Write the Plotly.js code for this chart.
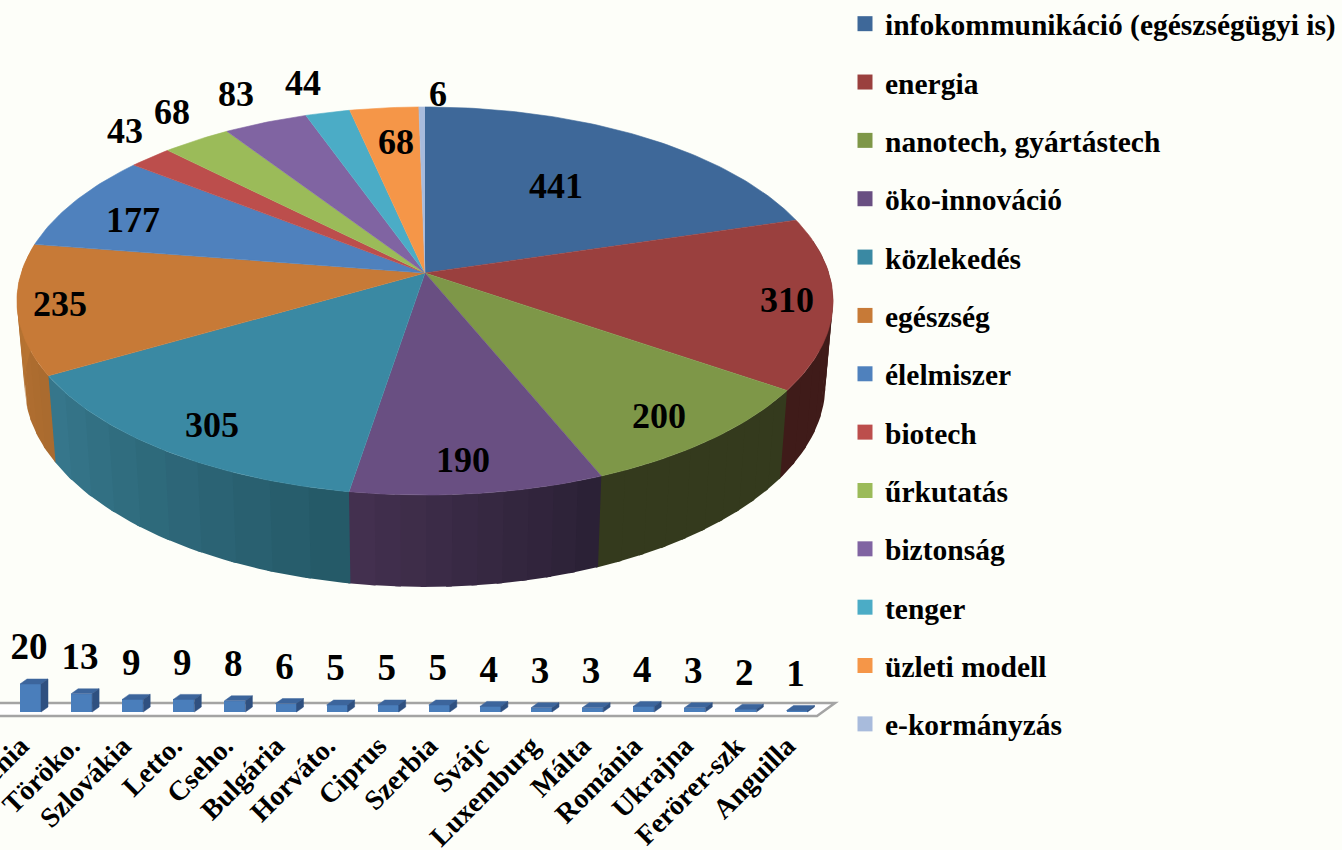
<!DOCTYPE html>
<html>
<head>
<meta charset="utf-8">
<script src="https://cdn.plot.ly/plotly-3.0.1.min.js"></script>
<style>html,body{margin:0;padding:0;background:#fdfef9;overflow:hidden}#chart{width:1342px;height:850px}</style>
</head>
<body>
<div id="chart"></div>
<script>
// ---- data ----
const themes = ['infokommunikáció (egészségügyi is)','energia','nanotech, gyártástech','öko-innováció','közlekedés','egészség','élelmiszer','biotech','űrkutatás','biztonság','tenger','üzleti modell','e-kormányzás'];
const themeValues = [441,310,200,190,305,235,177,43,68,83,44,68,6];
const countries = ['Szlovénia','T\u00f6r\u00f6ko.','Szlovákia','Letto.','Cseho.','Bulgária','Horváto.','Ciprus','Szerbia','Svájc','Luxemburg','Málta','Románia','Ukrajna','Ferörer-szk','Anguilla'];
const countryValues = [20,13,9,9,8,6,5,5,5,4,3,3,4,3,2,1];

// ---- styles ----
const FONT = 'Liberation Serif';
const BG = '#fdfef9';
const topColors = ['#3e6899','#9a403e','#7e9748','#694f82','#3a89a3','#c77a37','#4f81bd','#bc4e4c','#9bbb59','#8064a2','#4bacc6','#f59648','#a8bbdc'];
const sideFrom  = {1:'#3f1b19',2:'#343a1d',3:'#2a2035',4:'#245866',5:'#a96a2f'};
const sideTo    = {1:'#3f1b19',2:'#343a1d',3:'#443150',4:'#37788d',5:'#bb7632'};
// pie label placement (page pixels)
const pieLabelX = [556,787,659,463,212,60,133,125,172,236,303,396,438];
const pieLabelY = [186,300,416,460,425,304,220,131,112,94,83,142,94];

// ---- perspective pie projection ----
const CX=425, CY=273, A=403.8, B=190, K=0.1443;
const DROP=83, SX=0.981, SY=1.04;
function proj(deg, r, bottom){
  const t=deg*Math.PI/180, u=r*Math.sin(t), v=r*Math.cos(t), w=1+K*v;
  const px=A*u/w, py=-B*v/w;
  return bottom ? [CX+px*SX, CY+DROP+py*SY] : [CX+px, CY+py];
}
function arc(a,b){const o=[];const n=Math.max(2,Math.ceil(Math.abs(b-a)));for(let i=0;i<=n;i++)o.push(a+(b-a)*i/n);return o;}
function hex(c){return [1,3,5].map(i=>parseInt(c.substr(i,2),16));}
function mix(a,b,f){const x=hex(a),y=hex(b);return 'rgb('+x.map((v,i)=>Math.round(v+(y[i]-v)*f)).join(',')+')';}

const total=themeValues.reduce((a,b)=>a+b,0);
const edges=[0];themeValues.forEach(v=>edges.push(edges[edges.length-1]+v/total*360));

const traces=[];
const poly=(xs,ys,color,name,lw)=>({type:'scatter',mode:'lines',x:xs,y:ys,fill:'toself',fillcolor:color,
  line:{color:color,width:lw},hoverinfo:name?'text':'skip',text:name,showlegend:false,xaxis:'x',yaxis:'y'});

// side wall, cut to the visible front of the disc
const VIS0=80, VIS1=282, OVERLAP=0.7;
themeValues.forEach((v,i)=>{
  if(!sideFrom[i])return;
  const a=Math.max(edges[i],VIS0), b=Math.min(edges[i+1],VIS1);
  if(b<=a)return;
  const strips=10;
  for(let s=0;s<strips;s++){
    const a0=a+(b-a)*s/strips, a1=a+(b-a)*(s+1)/strips+(s<strips-1?OVERLAP:0.3);
    const top=arc(a0,a1).map(d=>proj(d,1,false));
    const bot=arc(a1,a0).map(d=>proj(d,1,true));
    const pts=top.concat(bot);
    traces.push(poly(pts.map(p=>p[0]),pts.map(p=>p[1]),mix(sideFrom[i],sideTo[i],(s+0.5)/strips),null,0));
  }
});
// top faces
themeValues.forEach((v,i)=>{
  const pts=[[CX,CY]].concat(arc(edges[i],edges[i+1]).map(d=>proj(d,1,false)));
  traces.push(poly(pts.map(p=>p[0]),pts.map(p=>p[1]),topColors[i],themes[i]+': '+v,0.6));
});

// ---- bars on the second axes ----
const idx=countries.map((c,i)=>i);
const STEP=51.1, FIRST=30.5, BASEPX=712, UNIT=1.4, AXISBOT=720, AXISTOP=620;
const BW=21/STEP, DX=7/STEP, DY=5/UNIT;
const xr2=[-FIRST/STEP,(1342-FIRST)/STEP], yr2=[(BASEPX-AXISBOT)/UNIT,(BASEPX-AXISTOP)/UNIT];
countryValues.forEach((v,i)=>{
  const l=i-BW/2, r=i+BW/2;
  traces.push({type:'scatter',mode:'lines',xaxis:'x2',yaxis:'y2',hoverinfo:'skip',showlegend:false,fill:'toself',
    fillcolor:'#3c659c',line:{color:'#3c659c',width:0.5},x:[l,r,r+DX,l+DX,l],y:[v,v,v+DY,v+DY,v]});
  traces.push({type:'scatter',mode:'lines',xaxis:'x2',yaxis:'y2',hoverinfo:'skip',showlegend:false,fill:'toself',
    fillcolor:'#2f5080',line:{color:'#2f5080',width:0.5},x:[r,r+DX,r+DX,r,r],y:[0,DY,v+DY,v,0]});
});
traces.push({type:'bar',x:idx,y:countryValues,width:BW,base:0,marker:{color:'#4a7ebb',line:{width:0}},xaxis:'x2',yaxis:'y2',
  showlegend:false,text:countries,hoverinfo:'text+y',textposition:'none'});
const LABEL_GAP=11;
traces.push({type:'scatter',mode:'text',x:idx.map(i=>i-0.03),y:countryValues.map(v=>v+LABEL_GAP),text:countryValues.map(String),
  textposition:'top center',textfont:{family:FONT,size:37,color:'#000',weight:'bold'},cliponaxis:false,xaxis:'x2',yaxis:'y2',hoverinfo:'skip',showlegend:false});

// ---- legend entries ----
themes.forEach((t,i)=>traces.push({type:'scatter',mode:'markers',x:[null],y:[null],name:t,legendgroup:'g'+i,
  marker:{symbol:'square',size:15,color:topColors[i]},xaxis:'x',yaxis:'y',hoverinfo:'skip'}));

const layout={
  width:1342,height:850,margin:{l:0,r:0,t:0,b:0,pad:0,autoexpand:false},autosize:false,
  paper_bgcolor:BG,plot_bgcolor:'rgba(0,0,0,0)',hovermode:'closest',bargap:0,
  font:{family:FONT,color:'#000',weight:'bold'},
  xaxis:{range:[0,1342],domain:[0,1],visible:false,fixedrange:true},
  yaxis:{range:[850,0],domain:[0,1],visible:false,fixedrange:true},
  xaxis2:{range:xr2,domain:[0,1],anchor:'y2',tickmode:'array',tickvals:idx,ticktext:countries,tickangle:-45,
    tickfont:{family:FONT,size:28,color:'#000',weight:'bold'},ticks:'',ticklabelstandoff:3,ticklabelshift:-10,ticklabeloverflow:'allow',
    showgrid:false,zeroline:false,showline:false,fixedrange:true},
  yaxis2:{range:yr2,domain:[(850-AXISBOT)/850,(850-AXISTOP)/850],anchor:'x2',visible:false,fixedrange:true},
  legend:{x:845/1342,xanchor:'left',y:1+(2/850),yanchor:'top',maxheight:1000,bgcolor:'rgba(0,0,0,0)',borderwidth:0,
    font:{family:FONT,size:29.5,color:'#000',weight:'bold'},tracegroupgap:17,itemclick:false,itemdoubleclick:false},
  shapes:[{type:'path',xref:'x',yref:'y',layer:'below',path:'M -5 703 L 835 703 L 817 716 L -5 716',
    line:{color:'#a4a4a4',width:2.5},fillcolor:'#ffffff'}],
  annotations:themeValues.map((v,i)=>({xref:'x',yref:'y',x:pieLabelX[i],y:pieLabelY[i],text:String(v),showarrow:false,
    xanchor:'center',yanchor:'middle',font:{family:FONT,size:36,color:'#000',weight:'bold'}}))
};
Plotly.newPlot('chart',traces,layout,{displayModeBar:false});
</script>
</body>
</html>
